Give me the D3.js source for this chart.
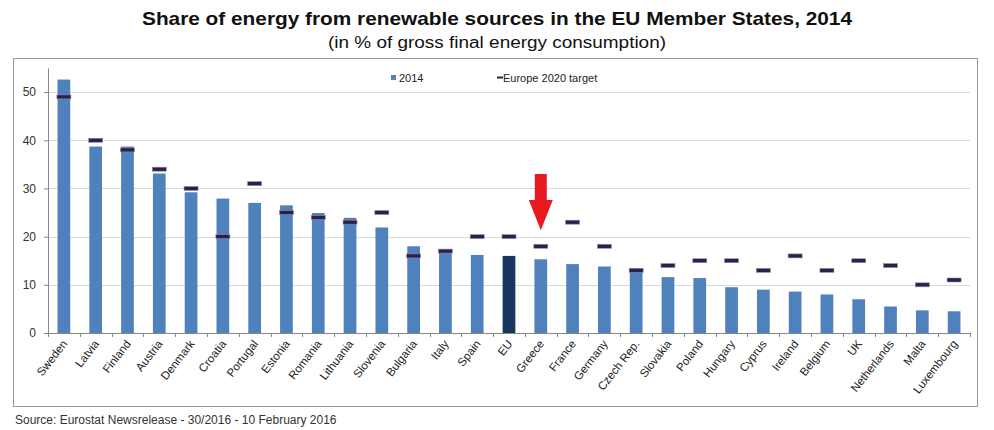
<!DOCTYPE html>
<html>
<head>
<meta charset="utf-8">
<script src="https://cdn.jsdelivr.net/npm/d3@7"></script>
<style>
  body { margin: 0; background: #fff; }
  text { font-family: Arial, "Liberation Sans", sans-serif; }
</style>
</head>
<body>
<div id="chart"></div>
<script>
var countries = ["Sweden", "Latvia", "Finland", "Austria", "Denmark", "Croatia", "Portugal", "Estonia",
  "Romania", "Lithuania", "Slovenia", "Bulgaria", "Italy", "Spain", "EU", "Greece", "France", "Germany",
  "Czech Rep.", "Slovakia", "Poland", "Hungary", "Cyprus", "Ireland", "Belgium", "UK", "Netherlands",
  "Malta", "Luxembourg"];
var share2014 = [52.6, 38.7, 38.7, 33.1, 29.2, 27.9, 27.0, 26.5, 24.9, 23.9, 21.9, 18.0, 17.1, 16.2, 16.0,
  15.3, 14.3, 13.8, 13.4, 11.6, 11.4, 9.5, 9.0, 8.6, 8.0, 7.0, 5.5, 4.7, 4.5];
var target2020 = [49, 40, 38, 34, 30, 20, 31, 25, 24, 23, 25, 16, 17, 20, 20, 18, 23, 18, 13, 14, 15, 15,
  13, 16, 13, 15, 14, 10, 11];
var yTicks = [0, 10, 20, 30, 40, 50];

var width = 994, height = 430;
var plot = {left: 48, right: 970, top: 68, bottom: 333};

var svg = d3.select("#chart").append("svg")
  .attr("width", width)
  .attr("height", height);

// title
svg.append("text")
  .attr("x", 497).attr("y", 25)
  .attr("text-anchor", "middle")
  .attr("font-size", 19).attr("font-weight", "bold")
  .attr("textLength", 710).attr("lengthAdjust", "spacingAndGlyphs")
  .attr("fill", "#111")
  .text("Share of energy from renewable sources in the EU Member States, 2014");
svg.append("text")
  .attr("x", 497).attr("y", 48)
  .attr("text-anchor", "middle")
  .attr("font-size", 16)
  .attr("textLength", 338).attr("lengthAdjust", "spacingAndGlyphs")
  .attr("fill", "#111")
  .text("(in % of gross final energy consumption)");

// frame
svg.append("rect")
  .attr("x", 13.5).attr("y", 58.5)
  .attr("width", 964).attr("height", 348)
  .attr("fill", "none").attr("stroke", "#999").attr("stroke-width", 1);

var x = d3.scaleBand()
  .domain(countries)
  .range([plot.left, plot.right])
  .paddingInner(0.6).paddingOuter(0.3);

var y = d3.scaleLinear()
  .domain([0, 55])
  .range([plot.bottom, plot.top]);

// gridlines
svg.append("g")
  .selectAll("line")
  .data(yTicks.filter(function(d){ return d > 0; }))
  .enter().append("line")
  .attr("x1", plot.left).attr("x2", plot.right)
  .attr("y1", function(d){ return Math.round(y(d)) + 0.5; })
  .attr("y2", function(d){ return Math.round(y(d)) + 0.5; })
  .attr("stroke", "#d9d9d9");

// y axis
var yAxis = svg.append("g")
  .attr("transform", "translate(" + plot.left + ",0)")
  .call(d3.axisLeft(y).tickValues(yTicks).tickSize(4).tickPadding(8).tickSizeOuter(0));
yAxis.select(".domain").attr("stroke", "#888");
yAxis.selectAll(".tick line").attr("stroke", "#888");
yAxis.selectAll(".tick text").attr("font-size", 12).attr("fill", "#333")
  .attr("font-family", "Arial, 'Liberation Sans', sans-serif");

// bars
svg.append("g")
  .selectAll("rect")
  .data(countries)
  .enter().append("rect")
  .attr("x", function(d){ return x(d); })
  .attr("width", x.bandwidth())
  .attr("y", function(d, i){ return y(share2014[i]); })
  .attr("height", function(d, i){ return y(0) - y(share2014[i]); })
  .attr("fill", function(d){ return d === "EU" ? "#17375e" : "#4f81bd"; });

// x axis
var step = x.step();
var xAxis = svg.append("g")
  .attr("transform", "translate(0," + plot.bottom + ")");
xAxis.append("line")
  .attr("x1", plot.left).attr("x2", plot.right)
  .attr("y1", 0.5).attr("y2", 0.5)
  .attr("stroke", "#888");
xAxis.selectAll(".sep")
  .data(d3.range(countries.length + 1))
  .enter().append("line")
  .attr("x1", function(i){ return Math.round(plot.left + i * step) + 0.5; })
  .attr("x2", function(i){ return Math.round(plot.left + i * step) + 0.5; })
  .attr("y1", 0).attr("y2", 4)
  .attr("stroke", "#888");
xAxis.selectAll(".lbl")
  .data(countries)
  .enter().append("text")
  .attr("transform", function(d){
    return "translate(" + (x(d) + x.bandwidth() / 2 + 4) + ",11) rotate(-52)";
  })
  .attr("text-anchor", "end")
  .attr("font-size", 11.5)
  .attr("fill", "#222")
  .text(function(d){ return d; });

// 2020 targets
svg.append("g")
  .selectAll("rect")
  .data(countries)
  .enter().append("rect")
  .attr("x", function(d){ return x(d) + x.bandwidth() / 2 - 7; })
  .attr("width", 14)
  .attr("y", function(d, i){ return y(target2020[i]) - 2; })
  .attr("height", 4)
  .attr("fill", "#2a2244")
  .attr("stroke", "#9a86b8").attr("stroke-width", 0.6);

// legend
svg.append("rect")
  .attr("x", 391).attr("y", 75).attr("width", 5).attr("height", 5)
  .attr("fill", "#4f81bd");
svg.append("text")
  .attr("x", 399).attr("y", 81.5)
  .attr("font-size", 11).attr("fill", "#222")
  .text("2014");
svg.append("rect")
  .attr("x", 497).attr("y", 76.5).attr("width", 6).attr("height", 2)
  .attr("fill", "#2a2244");
svg.append("text")
  .attr("x", 503).attr("y", 81.5)
  .attr("font-size", 11).attr("fill", "#222")
  .text("Europe 2020 target");

// red arrow pointing at Greece
var ax = x("Greece") + x.bandwidth() / 2;
var aTop = y(33), aNeck = y(27.6), aTip = y(21.3);
svg.append("path")
  .attr("d", "M" + (ax - 6) + "," + aTop +
    " L" + (ax + 6) + "," + aTop +
    " L" + (ax + 6) + "," + aNeck +
    " L" + (ax + 12) + "," + aNeck +
    " L" + ax + "," + aTip +
    " L" + (ax - 12) + "," + aNeck +
    " L" + (ax - 6) + "," + aNeck + " Z")
  .attr("fill", "#e8191f");

// source
svg.append("text")
  .attr("x", 15).attr("y", 424)
  .attr("font-size", 12).attr("fill", "#333")
  .text("Source: Eurostat Newsrelease - 30/2016 - 10 February 2016");
</script>
</body>
</html>
